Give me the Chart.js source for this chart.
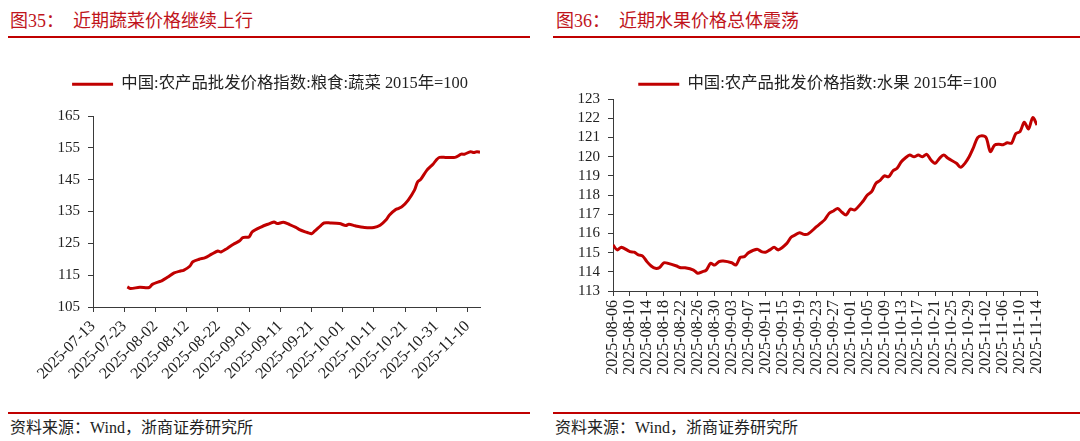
<!DOCTYPE html>
<html>
<head>
<meta charset="utf-8">
<script src="https://cdn.jsdelivr.net/npm/chart.js@4.4.1/dist/chart.umd.min.js"></script>
<style>
    body { margin: 0; width: 1080px; height: 441px; background: #fff; overflow: hidden; position: relative;
           font-family: "Liberation Serif", "Noto Sans CJK SC", serif; }
    .title { position: absolute; top: 9px; font-size: 18px; line-height: 24px; color: #c0141b; white-space: pre; }
    .rule { position: absolute; height: 2px; background: #c00000; }
    .src { position: absolute; top: 418px; font-size: 16px; line-height: 20px; color: #222; white-space: pre; }
    .box { position: absolute; top: 62px; width: 540px; height: 340px; }
</style>
</head>
<body>
<div class="title" style="left:10px">图35：  近期蔬菜价格继续上行</div>
<div class="title" style="left:556px">图36：  近期水果价格总体震荡</div>
<div class="rule" style="left:8px;width:522px;top:36px"></div>
<div class="rule" style="left:553px;width:527px;top:36px"></div>

<div class="box" style="left:0"><canvas id="vegChart" width="540" height="340"></canvas></div>
<div class="box" style="left:540px"><canvas id="fruitChart" width="540" height="340"></canvas></div>

<div class="rule" style="left:8px;width:522px;top:412px"></div>
<div class="rule" style="left:553px;width:527px;top:412px"></div>
<div class="src" style="left:10px">资料来源：Wind，浙商证券研究所</div>
<div class="src" style="left:555px">资料来源：Wind，浙商证券研究所</div>

<script>
// 蔬菜 (vegetables) index
const vegLabel = '中国:农产品批发价格指数:粮食:蔬菜 2015年=100';
const vegStart = '2025-07-13';
const vegDates = ['2025-07-24','2025-07-25','2025-07-28','2025-07-31','2025-08-01','2025-08-03','2025-08-04','2025-08-06',
    '2025-08-08','2025-08-10','2025-08-11','2025-08-13','2025-08-14','2025-08-16','2025-08-18','2025-08-20','2025-08-22',
    '2025-08-23','2025-08-25','2025-08-27','2025-08-29','2025-08-30','2025-09-01','2025-09-02','2025-09-05','2025-09-07',
    '2025-09-09','2025-09-10','2025-09-12','2025-09-14','2025-09-16','2025-09-17','2025-09-19','2025-09-20','2025-09-21',
    '2025-09-22','2025-09-24','2025-09-25','2025-09-27','2025-09-30','2025-10-02','2025-10-03','2025-10-05','2025-10-08',
    '2025-10-11','2025-10-13','2025-10-15','2025-10-16','2025-10-18','2025-10-19','2025-10-20','2025-10-22','2025-10-24',
    '2025-10-25','2025-10-26','2025-10-28','2025-10-30','2025-10-31','2025-11-01','2025-11-03','2025-11-06','2025-11-08',
    '2025-11-09','2025-11-11','2025-11-12','2025-11-13','2025-11-14'];
const vegValues = [111.3, 110.8, 111.2, 111.1, 112.1, 112.9, 113.2, 114.4,
    115.7, 116.3, 116.5, 117.8, 119.2, 120.0, 120.5, 121.6, 122.6,
    122.3, 123.4, 124.7, 125.8, 126.8, 127.0, 128.6, 130.2, 131.0,
    131.7, 131.2, 131.6, 130.9, 130.0, 129.4, 128.6, 128.3, 128.0,
    128.8, 130.6, 131.4, 131.4, 131.2, 130.6, 131.0, 130.5, 130.0,
    130.0, 130.7, 132.5, 133.9, 135.6, 136.0, 136.5, 138.6, 141.7,
    144.3, 145.1, 148.0, 149.9, 151.2, 152.0, 152.0, 152.0, 153.0,
    153.0, 153.8, 153.5, 153.8, 153.6];
const vegYTicks = [105, 165, 10];   // min, max, step
const vegXDays = [124, 10];         // axis length in days, tick step

// 水果 (fruit) index
const fruitLabel = '中国:农产品批发价格指数:水果 2015年=100';
const fruitStart = '2025-08-06';
const fruitDates = ['2025-08-06','2025-08-07','2025-08-08','2025-08-10','2025-08-11','2025-08-12','2025-08-13','2025-08-14',
    '2025-08-15','2025-08-16','2025-08-17','2025-08-18','2025-08-19','2025-08-21','2025-08-22','2025-08-23','2025-08-25',
    '2025-08-26','2025-08-27','2025-08-28','2025-08-29','2025-08-30','2025-08-31','2025-09-01','2025-09-03','2025-09-04',
    '2025-09-05','2025-09-06','2025-09-07','2025-09-09','2025-09-10','2025-09-11','2025-09-12','2025-09-13','2025-09-14',
    '2025-09-16','2025-09-17','2025-09-18','2025-09-19','2025-09-20','2025-09-21','2025-09-23','2025-09-24','2025-09-25',
    '2025-09-26','2025-09-27','2025-09-28','2025-09-29','2025-09-30','2025-10-01','2025-10-02','2025-10-04','2025-10-05',
    '2025-10-06','2025-10-07','2025-10-08','2025-10-09','2025-10-10','2025-10-11','2025-10-12','2025-10-13','2025-10-14',
    '2025-10-15','2025-10-16','2025-10-17','2025-10-18','2025-10-19','2025-10-20','2025-10-21','2025-10-22','2025-10-23',
    '2025-10-24','2025-10-26','2025-10-27','2025-10-28','2025-10-29','2025-10-30','2025-10-31','2025-11-01','2025-11-02',
    '2025-11-03','2025-11-04','2025-11-05','2025-11-06','2025-11-07','2025-11-08','2025-11-09','2025-11-10','2025-11-11',
    '2025-11-12','2025-11-13','2025-11-14'];
const fruitValues = [115.40, 115.14, 115.28, 115.05, 115.02, 114.88, 114.82, 114.53,
    114.30, 114.18, 114.23, 114.47, 114.44, 114.30, 114.21, 114.21, 114.09,
    113.92, 114.00, 114.09, 114.44, 114.35, 114.53, 114.56, 114.47, 114.35,
    114.75, 114.79, 115.00, 115.17, 115.05, 115.02, 115.14, 115.28, 115.14,
    115.48, 115.80, 115.92, 116.04, 115.95, 115.97, 116.35, 116.53, 116.73,
    117.05, 117.17, 117.30, 117.10, 116.96, 117.27, 117.22, 117.69, 118.00,
    118.17, 118.61, 118.76, 119.00, 118.95, 119.25, 119.39, 119.73, 119.94,
    120.08, 119.99, 120.08, 119.99, 120.12, 119.82, 119.65, 119.91, 120.08,
    119.91, 119.65, 119.44, 119.65, 119.99, 120.46, 120.99, 121.09, 120.99,
    120.26, 120.60, 120.64, 120.62, 120.72, 120.70, 121.20, 121.30, 121.79,
    121.44, 122.03, 121.65];
const fruitYTicks = [113, 123, 1];
const fruitXDays = [100, 4];

const RED = '#c00000';
const AXIS = '#3a3a3a';
const DAY = 86400000;

function dayIndex(date, start) {
    return Math.round((Date.parse(date) - Date.parse(start)) / DAY);
}
function dayLabel(v, start) {
    return new Date(Date.parse(start) + v * DAY).toISOString().slice(0, 10);
}

function makeChart(id, cfg) {
    const points = cfg.dates.map((d, i) => ({ x: dayIndex(d, cfg.start), y: cfg.values[i] }));
    return new Chart(document.getElementById(id), {
        type: 'line',
        data: {
            datasets: [{
                label: cfg.label,
                data: points,
                borderColor: RED,
                backgroundColor: RED,
                borderWidth: 3,
                pointRadius: 0,
                tension: 0.3
            }]
        },
        options: {
            responsive: false,
            animation: false,
            layout: { padding: { left: 0, right: cfg.padRight, top: 0, bottom: 0 } },
            plugins: {
                tooltip: { enabled: false },
                legend: {
                    position: 'top',
                    labels: {
                        boxWidth: 41,
                        boxHeight: 3,
                        padding: 14,
                        color: '#222',
                        font: { family: '"Liberation Serif", "Noto Sans CJK SC"', size: 16.4 },
                        generateLabels(chart) {
                            const items = Chart.defaults.plugins.legend.labels.generateLabels(chart);
                            items.forEach(it => { it.lineWidth = 0; it.fillStyle = RED; });
                            return items;
                        }
                    }
                }
            },
            scales: {
                x: {
                    type: 'linear',
                    min: 0,
                    max: cfg.xDays[0],
                    afterFit(scale) { scale.height = cfg.xHeight; },
                    border: { display: true, color: AXIS, width: 1 },
                    grid: { display: true, drawOnChartArea: false, drawTicks: true, tickLength: 5, color: AXIS },
                    ticks: {
                        stepSize: cfg.xDays[1],
                        includeBounds: false,
                        autoSkip: false,
                        minRotation: cfg.rotation,
                        maxRotation: cfg.rotation,
                        padding: cfg.xPad,
                        color: '#222',
                        font: { family: '"Liberation Serif"', size: cfg.xFont },
                        callback: v => dayLabel(v, cfg.start)
                    }
                },
                y: {
                    min: cfg.yTicks[0],
                    max: cfg.yTicks[1],
                    afterFit(scale) { scale.width = cfg.yWidth; },
                    border: { display: true, color: AXIS, width: 1 },
                    grid: { display: true, drawOnChartArea: false, drawTicks: true, tickLength: 5, color: AXIS },
                    ticks: {
                        stepSize: cfg.yTicks[2],
                        autoSkip: false,
                        padding: 8,
                        color: '#222',
                        font: { family: '"Liberation Serif"', size: 15 }
                    }
                }
            }
        },
        plugins: [{
            id: 'legendPlacement',
            beforeInit(chart) {
                const legend = chart.legend;
                const fit = legend.fit;
                legend.fit = function() {
                    fit.call(this);
                    this.height = cfg.legendHeight;
                };
                // legend sits a little right of the plot centre in the original
                const draw = legend.draw;
                legend.draw = function() {
                    this.left += cfg.legendShift;
                    this.right += cfg.legendShift;
                    draw.call(this);
                    this.left -= cfg.legendShift;
                    this.right -= cfg.legendShift;
                };
            }
        }]
    });
}

makeChart('vegChart', {
    label: vegLabel, start: vegStart, dates: vegDates, values: vegValues,
    yTicks: vegYTicks, xDays: vegXDays,
    padRight: 60, yWidth: 93, xHeight: 95, legendHeight: 54, legendShift: 30,
    rotation: 45, xPad: 5, xFont: 16
});

makeChart('fruitChart', {
    label: fruitLabel, start: fruitStart, dates: fruitDates, values: fruitValues,
    yTicks: fruitYTicks, xDays: fruitXDays,
    padRight: 43, yWidth: 73, xHeight: 111, legendHeight: 37, legendShift: 29,
    rotation: 90, xPad: 4, xFont: 16
});
</script>
</body>
</html>
